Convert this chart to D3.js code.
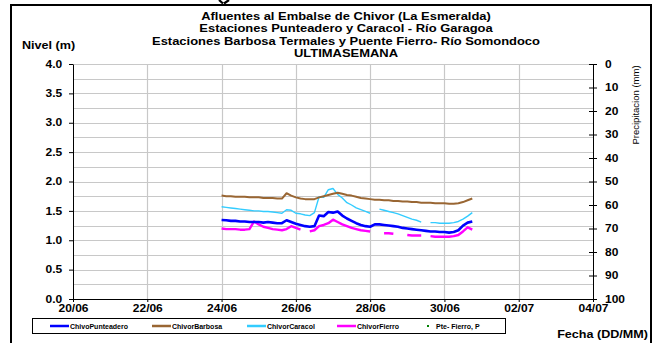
<!DOCTYPE html>
<html>
<head>
<meta charset="utf-8">
<script src="https://cdn.jsdelivr.net/npm/d3@7"></script>
<style>
  html, body { margin: 0; padding: 0; background: #fff; }
  svg { display: block; }
  text { font-family: "Liberation Sans", Arial, sans-serif; fill: #000; }
</style>
</head>
<body>
<svg id="chart" width="659" height="343"></svg>
<script>
// ---- Chart data -------------------------------------------------------
const titleLines = [
  "Afluentes al Embalse de Chivor (La Esmeralda)",
  "Estaciones Punteadero y Caracol - Río Garagoa",
  "Estaciones Barbosa Termales y Puente Fierro- Río Somondoco",
  "ULTIMASEMANA"
];
const dateTicks = ["2024-06-20", "2024-06-22", "2024-06-24", "2024-06-26",
                   "2024-06-28", "2024-06-30", "2024-07-02", "2024-07-04"];
const levelTicks = [0, 0.5, 1.0, 1.5, 2.0, 2.5, 3.0, 3.5, 4.0];
const rainTicks = [0, 10, 20, 30, 40, 50, 60, 70, 80, 90, 100];

// Readings every 3 hours starting 24/06 00:00 (null = missing reading)
const seriesStart = "2024-06-24T00:00";
const stepHours = 3;

const punteadero = [1.345, 1.34, 1.33, 1.33, 1.32, 1.32, 1.31, 1.31, 1.31, 1.30,
  1.31, 1.30, 1.29, 1.29, 1.34, 1.31, 1.28, 1.26, 1.24, 1.23,
  1.24, 1.42, 1.41, 1.48, 1.47, 1.49, 1.42, 1.37, 1.33, 1.29,
  1.26, 1.24, 1.23, 1.27, 1.27, 1.26, 1.25, 1.24, 1.23, 1.21,
  1.20, 1.19, 1.18, 1.17, 1.16, 1.15, 1.15, 1.14, 1.14, 1.13,
  1.14, 1.17, 1.25, 1.30, 1.32];
const barbosa = [1.76, 1.75, 1.75, 1.74, 1.74, 1.74, 1.73, 1.73, 1.73, 1.72,
  1.72, 1.72, 1.71, 1.71, 1.80, 1.76, 1.73, 1.71, 1.70, 1.70,
  1.70, 1.73, 1.75, 1.77, 1.79, 1.81, 1.79, 1.77, 1.76, 1.74,
  1.72, 1.71, 1.70, 1.69, 1.69, 1.68, 1.68, 1.67, 1.67, 1.66,
  1.66, 1.65, 1.65, 1.64, 1.64, 1.64, 1.63, 1.63, 1.63, 1.62,
  1.62, 1.63, 1.65, 1.68, 1.71];
const caracol = [1.57, 1.56, 1.55, 1.54, 1.53, 1.52, 1.51, 1.50, 1.50, 1.49,
  1.49, 1.48, 1.47, 1.46, 1.52, 1.51, 1.46, 1.45, 1.43, 1.42,
  1.47, 1.74, 1.73, 1.86, 1.88, 1.78, 1.72, 1.64, 1.60, 1.55,
  1.52, 1.49, 1.46, null, 1.53, 1.51, 1.49, 1.47, 1.45, 1.42,
  1.39, 1.36, 1.34, 1.31, null, 1.30, 1.30, 1.29, 1.29, 1.29,
  1.30, 1.32, 1.36, 1.41, 1.47];
const fierro = [1.20, 1.19, 1.19, 1.19, 1.18, 1.18, 1.19, 1.32, 1.27, 1.23,
  1.21, 1.19, 1.18, 1.17, 1.19, 1.24, 1.21, 1.18, null, 1.15,
  1.17, 1.24, 1.26, 1.29, 1.35, 1.31, 1.27, 1.24, 1.21, 1.19,
  1.17, 1.16, 1.15, null, null, 1.12, 1.12, 1.11, null, null,
  1.09, 1.08, 1.08, 1.08, null, 1.07, 1.06, 1.06, 1.06, 1.06,
  1.07, 1.09, 1.15, 1.22, 1.18];
// Rain gauge at Puente Fierro: no precipitation recorded this week
const fierroRain = [];

const legendNames = ["ChivoPunteadero", "ChivorBarbosa", "ChivorCaracol", "ChivorFierro", "Pte- Fierro, P"];
const seriesColors = ["#0000ff", "#996633", "#33ccff", "#ff00ff", "#008000"];
const seriesWidths = [2.6, 2, 1.4, 2.4];

// ---- Layout -----------------------------------------------------------
const svg = d3.select("#chart");
const plot = { left: 73, right: 593, top: 64, bottom: 299 };
const stretch = 1.2;   // wide lettering used throughout the sheet
const parse = d3.timeParse("%Y-%m-%d");
const parseT = d3.timeParse("%Y-%m-%dT%H:%M");

const x = d3.scaleTime()
  .domain([parse(dateTicks[0]), parse(dateTicks[dateTicks.length - 1])])
  .range([plot.left, plot.right]);
const y = d3.scaleLinear().domain([0, 4]).range([plot.bottom, plot.top]);
const yRain = d3.scaleLinear().domain([0, 100]).range([plot.top, plot.bottom]);

// text placed at (px, py) and widened horizontally around that point
function wideText(parent, px, py, str, size, bold, anchor) {
  return parent.append("text")
    .attr("transform", `translate(${px},${py}) scale(${stretch},1)`)
    .attr("font-size", size)
    .attr("font-weight", bold ? "bold" : "normal")
    .attr("text-anchor", anchor || "start")
    .text(str);
}

// outer frame
svg.append("rect")
  .attr("x", 11).attr("y", 5).attr("width", 640).attr("height", 350)
  .attr("fill", "none").attr("stroke", "#000").attr("stroke-width", 2);

// tail of the page lettering above the frame
svg.append("path").attr("d", "M219,0 L223,3.5 M229,0 L224,3.5")
  .attr("stroke", "#000").attr("stroke-width", 2.2).attr("fill", "none");

// titles
const title = svg.append("g");
titleLines.forEach((t, i) => {
  wideText(title, 346, 20 + i * 12.3, t, 10.8, true, "middle");
});

// gridlines
const grid = svg.append("g").attr("stroke", "#c8c8c8").attr("stroke-width", 1.2);
grid.selectAll("line.h").data(d3.range(0.25, 4.001, 0.25)).join("line")
  .attr("x1", plot.left).attr("x2", plot.right)
  .attr("y1", d => Math.round(y(d)) + 0.5).attr("y2", d => Math.round(y(d)) + 0.5);
grid.selectAll("line.v").data(dateTicks.slice(1, -1).map(parse)).join("line")
  .attr("x1", d => Math.round(x(d)) + 0.5).attr("x2", d => Math.round(x(d)) + 0.5)
  .attr("y1", plot.top).attr("y2", plot.bottom);

// axes
const axisStyle = g => {
  g.selectAll("path, line").attr("stroke", "#000").attr("stroke-width", 1);
  g.selectAll("text").attr("font-family", "Liberation Sans, Arial, sans-serif")
    .attr("font-weight", "bold").attr("fill", "#000")
    .attr("transform", `scale(${stretch},1)`);
};
svg.append("g").attr("transform", `translate(${plot.left},0)`)
  .call(d3.axisLeft(y).tickValues(levelTicks).tickFormat(d3.format(".1f"))
    .tickSizeInner(4).tickSizeOuter(0).tickPadding(5))
  .call(axisStyle).attr("font-size", 10);

svg.append("g").attr("transform", `translate(${plot.right},0)`)
  .call(d3.axisRight(yRain).tickValues(rainTicks).tickSizeInner(4).tickSizeOuter(0).tickPadding(6))
  .call(axisStyle).attr("font-size", 10)
  .call(g => g.selectAll(".tick line").attr("x1", -4));

svg.append("g").attr("transform", `translate(0,${plot.bottom})`)
  .call(d3.axisBottom(x).tickValues(dateTicks.map(parse)).tickFormat(d3.timeFormat("%d/%m"))
    .tickSizeInner(3).tickSizeOuter(0).tickPadding(3))
  .call(axisStyle).attr("font-size", 10);

// axis titles
wideText(svg, 22, 49, "Nivel (m)", 10.5, true);
svg.append("text").attr("transform", "translate(639,105) rotate(-90)")
  .attr("text-anchor", "middle").attr("font-size", 9.5).text("Precipitacion (mm)");
wideText(svg, 648, 338, "Fecha (DD/MM)", 10.5, true, "end");

// level series
const t0 = parseT(seriesStart);
const timeAt = i => d3.timeHour.offset(t0, i * stepHours);
const line = d3.line()
  .defined(d => d != null)
  .x((d, i) => x(timeAt(i)))
  .y(d => y(d));

const levelSeries = [fierro, caracol, barbosa, punteadero];
const levelIdx = [3, 2, 1, 0];
svg.append("g").selectAll("path").data(levelSeries).join("path")
  .attr("fill", "none")
  .attr("stroke", (d, k) => seriesColors[levelIdx[k]])
  .attr("stroke-width", (d, k) => seriesWidths[levelIdx[k]])
  .attr("stroke-linejoin", "round")
  .attr("d", d => line(d));

// precipitation points
svg.append("g").selectAll("circle").data(fierroRain).join("circle")
  .attr("cx", d => x(parseT(d.t))).attr("cy", d => yRain(d.v))
  .attr("r", 1.5).attr("fill", seriesColors[4]);

// legend
const lg = svg.append("g");
lg.append("rect").attr("x", 32.5).attr("y", 318.5).attr("width", 473).attr("height", 15)
  .attr("fill", "#fff").attr("stroke", "#000").attr("stroke-width", 1);
const legendX = [50, 152, 247, 337, 425];
legendNames.forEach((name, i) => {
  const gx = legendX[i];
  if (i < 4) {
    lg.append("line").attr("x1", gx).attr("x2", gx + 19).attr("y1", 326).attr("y2", 326)
      .attr("stroke", seriesColors[i]).attr("stroke-width", 2.5);
    lg.append("text").attr("x", gx + 20).attr("y", 328.5).attr("font-size", 7)
      .attr("font-weight", "bold").text(name);
  } else {
    lg.append("rect").attr("x", gx + 2).attr("y", 325).attr("width", 2).attr("height", 2)
      .attr("fill", seriesColors[i]);
    lg.append("text").attr("x", gx + 11).attr("y", 328.5).attr("font-size", 7)
      .attr("font-weight", "bold").text(name);
  }
});
</script>
</body>
</html>
